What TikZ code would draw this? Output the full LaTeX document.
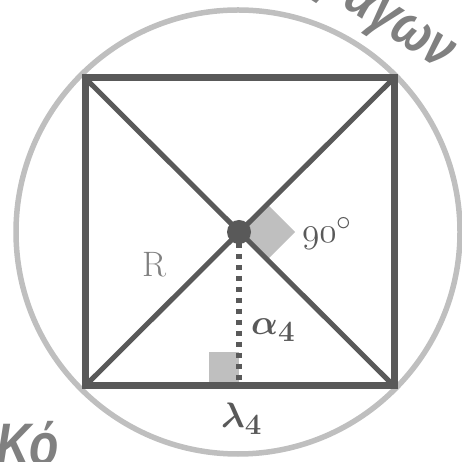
\documentclass[tikz,border=0pt]{standalone}
\usepackage{graphicx}
\usepackage{fontspec}
\newfontfamily\wmfont{Liberation Sans}[FakeStretch=0.8]
\newcommand\osnum[1]{{\fontencoding{OML}\fontfamily{cmm}\fontseries{m}\fontshape{it}\selectfont #1}}
\newcommand\bigtxt[1]{\scalebox{1.42}{#1}}
\definecolor{darkg}{HTML}{595959}
\definecolor{lightg}{HTML}{BFBFBF}
\definecolor{midg}{HTML}{808080}
\tikzset{
  circ/.style={draw=lightg, line width=5.5pt},
  sqline/.style={draw=darkg, line width=7pt},
  diag/.style={draw=darkg, line width=5pt},
  apothem/.style={draw=darkg, line width=5.5pt, dash pattern=on 5.5pt off 5.5pt},
  marker/.style={fill=lightg},
  lbl/.style={text=darkg, font=\Huge, inner sep=0pt},
  blbl/.style={text=darkg, font=\Huge\boldmath, inner sep=0pt},
  wm/.style={text=midg, font=\wmfont\bfseries\itshape\fontsize{58}{62}\selectfont, inner sep=0pt}
}
\begin{document}
\begin{tikzpicture}[x=1pt,y=1pt]
\useasboundingbox (0,0) rectangle (462,462);
\clip (0,0) rectangle (462,462);
% watermark
\node[wm, rotate=-33, anchor=base west] (wm1) at (318,472) {ραγων};
\node[wm, font=\wmfont\bfseries\itshape\fontsize{60}{64}\selectfont, anchor=base west] (wm2) at (-4,-4) {Κό};
% geometry
\coordinate (O) at (239,230);
\coordinate (A) at (85,76);
\coordinate (B) at (394,76);
\coordinate (C) at (394,384);
\coordinate (D) at (85,384);
\coordinate (M) at (239,76);
\draw[circ] (238,230) circle (222);
\fill[marker] (209,76) rectangle (239,110);
\fill[marker] (O) -- ++(28,28) -- ++(28,-28) -- ++(-28,-28) -- cycle;
\draw[diag] (A) -- (C);
\draw[diag] (B) -- (D);
\draw[apothem] (O) -- (M);
\draw[sqline] (A) -- (B) -- (C) -- (D) -- cycle;
\fill[darkg] (O) circle (12);
% labels
\node[lbl, anchor=base west] (ang) at (302,219) {\bigtxt{\osnum{90}$^\circ$}};
\node[lbl, text=midg, anchor=base west] (rr) at (142,185) {\bigtxt{R}};
\node[blbl, anchor=base west] (al) at (251,127) {\bigtxt{$\alpha_4$}};
\node[blbl, anchor=base west] (la) at (221,34) {\bigtxt{$\lambda_4$}};
\end{tikzpicture}
\end{document}
